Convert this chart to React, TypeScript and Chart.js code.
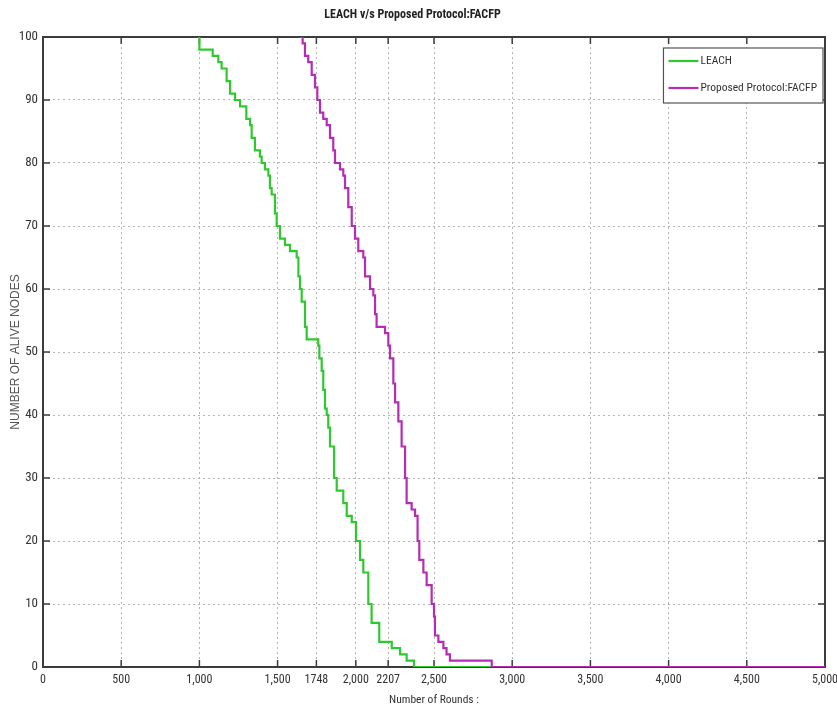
import React, { useEffect, useRef } from 'react';
import { Chart, registerables } from 'chart.js';
Chart.register(...registerables);

const chartTitle = 'LEACH v/s Proposed Protocol:FACFP';
const xAxisTitle = 'Number of Rounds :';
const yAxisTitle = 'NUMBER OF ALIVE NODES';
const seriesNames = ['LEACH', 'Proposed Protocol:FACFP'];
const seriesColors = ['#2fc92f', '#b42db4'];

const xTickValues = [0, 500, 1000, 1500, 1748, 2000, 2207, 2500, 3000, 3500, 4000, 4500, 5000];
const xTickLabels = ['0', '500', '1,000', '1,500', '1748', '2,000', '2207', '2,500', '3,000', '3,500', '4,000', '4,500', '5,000'];
const yTickValues = [0, 10, 20, 30, 40, 50, 60, 70, 80, 90, 100];

const leachRounds = [990, 1000, 1085, 1121, 1142, 1174, 1196, 1228, 1260, 1300, 1324, 1334, 1355, 1387, 1398, 1419, 1441, 1451, 1462, 1483, 1494, 1515, 1547, 1579, 1622, 1633, 1643, 1654, 1675, 1686, 1760, 1767, 1782, 1792, 1803, 1814, 1824, 1835, 1861, 1878, 1920, 1942, 1974, 2001, 2027, 2048, 2080, 2101, 2150, 2230, 2283, 2325, 2372, 5000];
const leachAlive = [100, 98, 97, 96, 95, 93, 91, 90, 89, 87, 86, 84, 82, 81, 80, 79, 78, 76, 75, 72, 70, 68, 67, 66, 65, 62, 60, 58, 54, 52, 51, 49, 47, 44, 41, 40, 38, 35, 30, 28, 26, 24, 23, 20, 17, 15, 10, 7, 4, 3, 2, 1, 0, 0];

const facfpRounds = [1643, 1660, 1675, 1696, 1718, 1739, 1754, 1771, 1792, 1814, 1835, 1856, 1867, 1899, 1920, 1931, 1952, 1974, 1995, 2016, 2048, 2059, 2091, 2112, 2123, 2133, 2187, 2208, 2219, 2240, 2251, 2272, 2293, 2315, 2325, 2357, 2379, 2395, 2406, 2432, 2453, 2485, 2500, 2506, 2528, 2560, 2580, 2602, 2869, 5000];
const facfpAlive = [100, 99, 97, 96, 94, 92, 90, 88, 87, 86, 84, 82, 80, 79, 78, 76, 73, 70, 68, 66, 65, 62, 60, 59, 56, 54, 53, 51, 49, 45, 42, 39, 35, 30, 26, 25, 24, 20, 17, 15, 13, 10, 8, 5, 4, 3, 2, 1, 0, 0];

const NARROW = '"Liberation Sans Narrow", "Roboto Condensed", "Liberation Sans", Arial, sans-serif';
const REGULAR = '"Liberation Sans", Arial, sans-serif';
const FRAME = '#3c3c3c';

const framePlugin = {
  id: 'matlabFrame',
  beforeDatasetsDraw(chart: any) {
    const { ctx, chartArea: a, scales } = chart;
    ctx.save();
    ctx.strokeStyle = FRAME;
    ctx.lineWidth = 1.5;
    ctx.beginPath();
    const tl = 7;
    xTickValues.forEach((v) => {
      const x = scales.x.getPixelForValue(v);
      ctx.moveTo(x, a.bottom);
      ctx.lineTo(x, a.bottom - tl);
      ctx.moveTo(x, a.top);
      ctx.lineTo(x, a.top + tl);
    });
    yTickValues.forEach((v) => {
      const y = scales.y.getPixelForValue(v);
      ctx.moveTo(a.left, y);
      ctx.lineTo(a.left + tl, y);
      ctx.moveTo(a.right, y);
      ctx.lineTo(a.right - tl, y);
    });
    ctx.stroke();
    ctx.lineWidth = 2;
    ctx.strokeRect(a.left, a.top, a.right - a.left, a.bottom - a.top);
    ctx.restore();
  },
  afterDraw(chart: any) {
    const { ctx, chartArea: a } = chart;
    ctx.save();
    ctx.font = '11.5px ' + NARROW;
    const textW = Math.max(...seriesNames.map((n) => ctx.measureText(n).width));
    const w = Math.max(158, 37 + textW + 6);
    const h = 55;
    const left = a.right - 2 - w;
    const top = a.top + 11;
    ctx.fillStyle = '#ffffff';
    ctx.fillRect(left, top, w, h);
    ctx.strokeStyle = '#555555';
    ctx.lineWidth = 1.2;
    ctx.strokeRect(left, top, w, h);
    ctx.textBaseline = 'middle';
    ctx.textAlign = 'left';
    seriesNames.forEach((name, i) => {
      const y = top + 13 + i * 27;
      ctx.strokeStyle = seriesColors[i];
      ctx.lineWidth = 2.2;
      ctx.beginPath();
      ctx.moveTo(left + 5, y);
      ctx.lineTo(left + 35, y);
      ctx.stroke();
      ctx.fillStyle = '#333333';
      ctx.fillText(name, left + 37, y);
    });
    ctx.restore();
  },
};

export default function App() {
  const ref = useRef<HTMLCanvasElement | null>(null);
  useEffect(() => {
    if (!ref.current) return;
    const chart = new Chart(ref.current, {
      type: 'line',
      data: {
        datasets: [
          {
            label: seriesNames[0],
            data: leachRounds.map((r, i) => ({ x: r, y: leachAlive[i] })),
            borderColor: seriesColors[0],
            backgroundColor: seriesColors[0],
            borderWidth: 2.2,
            pointRadius: 0,
            stepped: true,
            fill: false,
            order: 1,
          },
          {
            label: seriesNames[1],
            data: facfpRounds.map((r, i) => ({ x: r, y: facfpAlive[i] })),
            borderColor: seriesColors[1],
            backgroundColor: seriesColors[1],
            borderWidth: 2.2,
            pointRadius: 0,
            stepped: true,
            fill: false,
            order: 0,
          },
        ],
      },
      options: {
        responsive: false,
        animation: false,
        layout: { padding: { left: 0, right: 12, top: 0, bottom: 0 } },
        plugins: {
          legend: { display: false },
          tooltip: { enabled: false },
          title: {
            display: true,
            text: chartTitle,
            color: '#222222',
            font: { family: NARROW, size: 12, weight: 'bold', lineHeight: 1.2 },
            padding: { top: 8, bottom: 14.6 },
          },
        },
        scales: {
          x: {
            type: 'linear',
            min: 0,
            max: 5000,
            afterBuildTicks: (axis: any) => {
              axis.ticks = xTickValues.map((v) => ({ value: v }));
            },
            afterFit: (axis: any) => {
              axis.height = 46;
              axis.paddingLeft = 0;
              axis.paddingRight = 0;
            },
            ticks: {
              autoSkip: false,
              maxRotation: 0,
              padding: 6,
              color: '#333333',
              font: { family: NARROW, size: 12 },
              callback: (value: any) => {
                const i = xTickValues.indexOf(Number(value));
                return i >= 0 ? xTickLabels[i] : '';
              },
            },
            grid: { color: '#b5b5b5', drawTicks: false, lineWidth: 1 },
            border: { display: false, dash: [2, 3] },
            title: {
              display: true,
              text: xAxisTitle,
              color: '#333333',
              font: { family: NARROW, size: 11.5, lineHeight: 1.2 },
              padding: { top: 0, bottom: 6 },
            },
          },
          y: {
            type: 'linear',
            min: 0,
            max: 100,
            afterBuildTicks: (axis: any) => {
              axis.ticks = yTickValues.map((v) => ({ value: v }));
            },
            afterFit: (axis: any) => {
              axis.width = 43;
            },
            ticks: {
              padding: 5,
              color: '#333333',
              font: { family: NARROW, size: 13 },
            },
            grid: { color: '#b5b5b5', drawTicks: false, lineWidth: 1 },
            border: { display: false, dash: [2, 3] },
            title: {
              display: true,
              text: yAxisTitle,
              color: '#555555',
              font: { family: REGULAR, size: 12, lineHeight: 1.2 },
              padding: { top: 8, bottom: 0 },
            },
          },
        },
      },
      plugins: [framePlugin],
    } as any);
    return () => chart.destroy();
  }, []);
  return (
    <div style={{ position: 'fixed', left: 0, top: 0, width: 837, height: 713, background: '#fff' }}>
      <canvas ref={ref} width={837} height={713} style={{ display: 'block' }} />
    </div>
  );
}
